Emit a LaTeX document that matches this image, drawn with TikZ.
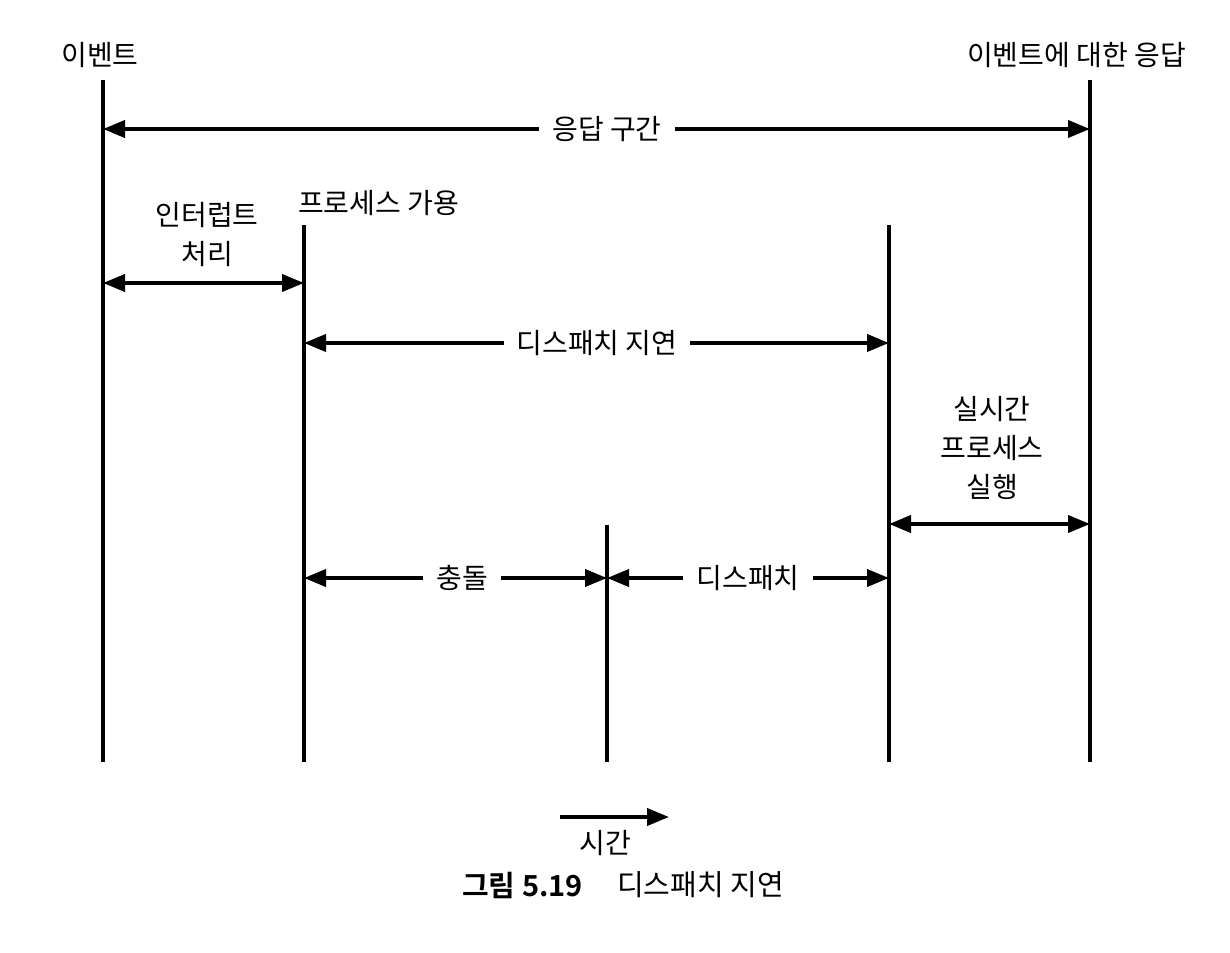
\documentclass[tikz,border=0pt]{standalone}
\usepackage{fontspec}
\setmainfont{Noto Sans CJK KR}
\newfontfamily\capbold{Noto Sans CJK KR Bold}
\usetikzlibrary{arrows.meta}
\begin{document}
\begin{tikzpicture}[x=1pt,y=-1pt,
  vline/.style={line width=3.8pt},
  tip/.style={},
  dim/.style={line width=3.8pt,{Triangle[length=22pt,width=17pt]}-{Triangle[length=22pt,width=17pt]}},
  gaplabel/.style={fill=white,inner xsep=13pt,inner ysep=2pt},
  lbl/.style={font=\fontsize{28}{39}\selectfont,align=center,inner sep=0pt},
  caplbl/.style={font=\fontsize{29}{39}\selectfont,inner sep=0pt}]
\useasboundingbox (0,0) rectangle (1230,952);
% vertical lines
\coordinate (v1t) at (103,80);   \coordinate (v1b) at (103,762);
\coordinate (v2t) at (304,225);  \coordinate (v2b) at (304,762);
\coordinate (v3t) at (607,525);  \coordinate (v3b) at (607,762);
\coordinate (v4t) at (889,225);  \coordinate (v4b) at (889,762);
\coordinate (v5t) at (1090,80);  \coordinate (v5b) at (1090,762);
\foreach \i in {1,...,5} \draw[vline] (v\i t) -- (v\i b);
% arrow endpoints
\coordinate (r1) at (103,129); \coordinate (r2) at (1090,129);
\coordinate (i1) at (103,283); \coordinate (i2) at (304,283);
\coordinate (d1) at (304,343); \coordinate (d2) at (889,343);
\coordinate (e1) at (889,524); \coordinate (e2) at (1090,524);
\coordinate (c1) at (304,578); \coordinate (c2) at (607,578);
\coordinate (p1) at (607,578); \coordinate (p2) at (889,578);
\draw[dim] (r1) -- (r2);
\draw[dim] (i1) -- (i2);
\draw[dim] (d1) -- (d2);
\draw[dim] (e1) -- (e2);
\draw[dim] (c1) -- (c2);
\draw[dim] (p1) -- (p2);
% gap labels
\node[lbl,gaplabel] (rl) at (607,129) {응답 구간};
\node[lbl,gaplabel] (dl) at (597,343) {디스패치 지연};
\node[lbl,gaplabel] (cl) at (462,578) {충돌};
\node[lbl,gaplabel] (pl) at (748,578) {디스패치};
% other labels
\node[lbl] (ev) at (100,55) {이벤트};
\node[lbl,anchor=east] (resp) at (1186,55) {이벤트에 대한 응답};
\node[lbl] (intr) at (207,235) {인터럽트\\처리};
\node[lbl,anchor=west] (avail) at (298,203) {프로세스 가용};
\node[lbl] (rt) at (992,448) {실시간\\프로세스\\실행};
% time arrow
\coordinate (t1) at (560,817); \coordinate (t2) at (669,817);
\draw[line width=3.8pt,-{Triangle[length=22pt,width=17pt]}] (t1) -- (t2);
\node[lbl] (time) at (605,843) {시간};
% caption
\node[caplbl,anchor=west] (capnum) at (462,885) {\capbold 그림 5.19};
\node[caplbl,anchor=west] (captxt) at (617,885) {디스패치 지연};
\end{tikzpicture}
\end{document}
